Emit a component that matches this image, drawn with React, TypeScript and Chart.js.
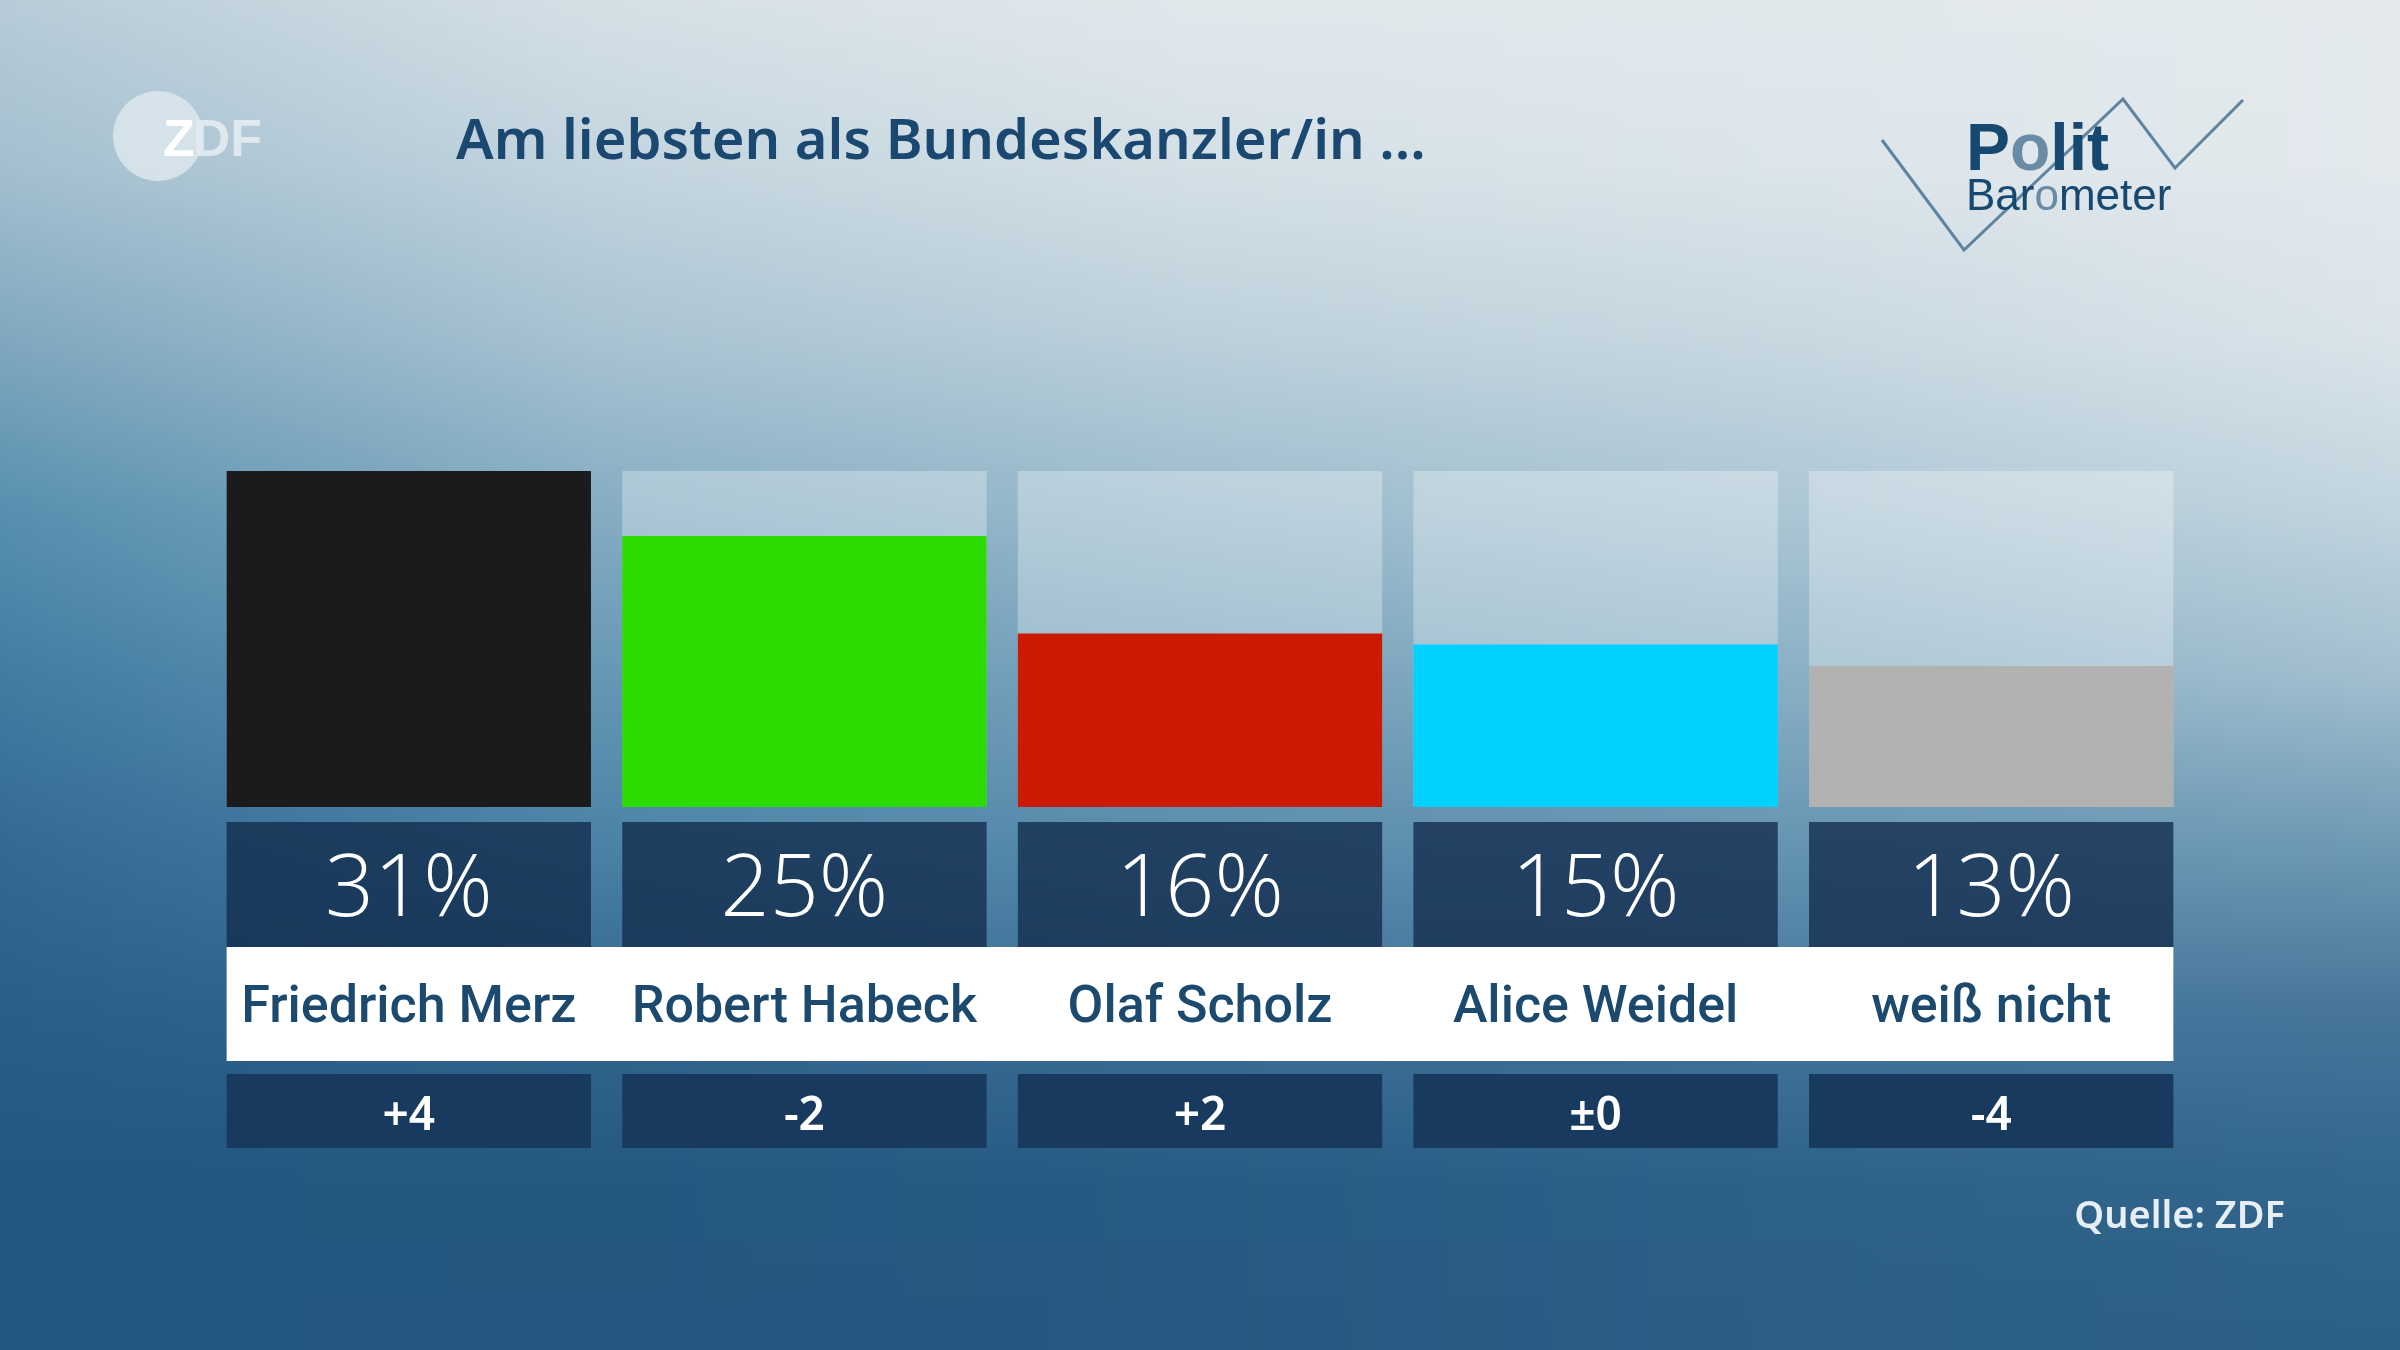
import React, { useEffect, useRef } from "react";
import { Chart, registerables } from "chart.js";

Chart.register(...registerables);

const candidates = ["Friedrich Merz", "Robert Habeck", "Olaf Scholz", "Alice Weidel", "weiß nicht"];
const shares = [31, 25, 16, 15, 13];
const changes = ["+4", "-2", "+2", "±0", "-4"];
const barColors = ["#1b1b1b", "#2cdb00", "#cc1a00", "#00d2ff", "#b2b2b2"];
const scaleMax = 31;
const title = "Am liebsten als Bundeskanzler/in ...";
const source = "Quelle: ZDF";

const W = 2400;
const H = 1350;

// background colour grid: columns left→right (x = 0, 600, 1200, 1800, 2400), rows top→bottom
const bgGrid = [
  ["#b7ccd8", "#a3bfcf", "#80a8bf", "#5890af", "#427ca1", "#346994", "#2a5e88", "#23577f", "#22567f"],
  ["#d5e0e6", "#c2d4de", "#a9c3d2", "#86adc3", "#6598b5", "#4b82a5", "#33668e", "#25587f", "#23557e"],
  ["#e1e8ec", "#d4e0e6", "#bcd0db", "#9cbccd", "#78a3bc", "#5a8cad", "#3d6f97", "#285b83", "#255780"],
  ["#e2e9ed", "#dbe5ea", "#c8d8e1", "#adc7d5", "#8ab0c5", "#6595b3", "#44769c", "#2e6188", "#2b5d85"],
  ["#e4eaee", "#e3e9ed", "#dae4ea", "#c2d5df", "#a3bfcf", "#6e9ab4", "#467599", "#32668c", "#2c5f86"],
];

function hexToRgb(h: string) {
  const n = parseInt(h.slice(1), 16);
  return [(n >> 16) & 255, (n >> 8) & 255, n & 255];
}

function drawBackground(ctx: CanvasRenderingContext2D) {
  const grid = bgGrid.map((col) => col.map(hexToRgb));
  const cols = grid.length;
  const rows = grid[0].length;
  const step = 4;
  ctx.save();
  for (let x = 0; x < W; x += step) {
    const fx = ((x + step / 2) / W) * (cols - 1);
    const i = Math.min(cols - 2, Math.floor(fx));
    const t = fx - i;
    const g = ctx.createLinearGradient(0, 0, 0, H);
    for (let j = 0; j < rows; j++) {
      const a = grid[i][j];
      const c = grid[i + 1][j];
      const r = Math.round(a[0] + (c[0] - a[0]) * t);
      const gg = Math.round(a[1] + (c[1] - a[1]) * t);
      const bb = Math.round(a[2] + (c[2] - a[2]) * t);
      g.addColorStop(j / (rows - 1), `rgb(${r},${gg},${bb})`);
    }
    ctx.fillStyle = g;
    ctx.fillRect(x, 0, step + 0.5, H);
  }
  ctx.restore();
}

const panelPlugin = {
  id: "panels",
  beforeDraw(chart: any) {
    drawBackground(chart.ctx);
  },
  beforeDatasetsDraw(chart: any) {
    const { ctx, chartArea } = chart;
    const meta = chart.getDatasetMeta(0);
    ctx.save();
    ctx.fillStyle = "rgba(255,255,255,0.3)";
    meta.data.forEach((el: any) => {
      const { x, width } = el.getProps(["x", "width"], true);
      ctx.fillRect(x - width / 2, chartArea.top, width, chartArea.bottom - chartArea.top);
    });
    ctx.restore();
  },
  afterDatasetsDraw(chart: any) {
    const { ctx, chartArea } = chart;
    const meta = chart.getDatasetMeta(0);
    const b = chartArea.bottom;
    const els = meta.data.map((el: any) => el.getProps(["x", "width"], true));
    ctx.save();
    ctx.textAlign = "center";
    ctx.textBaseline = "alphabetic";
    // percent boxes
    els.forEach((p: any, i: number) => {
      ctx.fillStyle = "rgba(18,44,77,0.78)";
      ctx.fillRect(p.x - p.width / 2, b + 15, p.width, 125);
      ctx.fillStyle = "#ffffff";
      ctx.font = '350 86px "Open Sans", "Noto Sans"';
      ctx.fillText(shares[i] + "%", p.x, b + 109);
    });
    // white band
    const first = els[0];
    const last = els[els.length - 1];
    const left = first.x - first.width / 2;
    ctx.fillStyle = "#ffffff";
    ctx.fillRect(left, b + 140, last.x + last.width / 2 - left, 114);
    els.forEach((p: any, i: number) => {
      ctx.fillStyle = "#1b4a6e";
      ctx.font = '500 52px Roboto, "Noto Sans"';
      ctx.fillText(candidates[i], p.x, b + 215);
    });
    // change boxes
    els.forEach((p: any, i: number) => {
      ctx.fillStyle = "#173a5e";
      ctx.fillRect(p.x - p.width / 2, b + 267, p.width, 74);
      ctx.fillStyle = "#ffffff";
      ctx.font = '600 46px "Noto Sans"';
      ctx.fillText(changes[i], p.x, b + 323);
    });
    ctx.restore();
  },
  afterDraw(chart: any) {
    const { ctx } = chart;
    ctx.save();
    ctx.textBaseline = "alphabetic";
    // title
    ctx.fillStyle = "#1a4870";
    ctx.font = '600 56px "Noto Sans"';
    ctx.textAlign = "left";
    ctx.fillText(title, 456, 159);
    // ZDF logo
    ctx.fillStyle = "rgba(228,237,242,0.72)";
    ctx.beginPath();
    ctx.ellipse(158, 136, 45, 45, 0, 0, Math.PI * 2);
    ctx.fill();
    ctx.font = '700 52px "Liberation Sans"';
    ctx.fillStyle = "#ffffff";
    ctx.fillText("Z", 163, 156);
    const zw = ctx.measureText("Z").width;
    ctx.fillStyle = "rgba(225,234,240,0.95)";
    ctx.fillText("DF", 163 + zw - 2, 156);
    // Politbarometer logo
    ctx.strokeStyle = "#5f84a0";
    ctx.lineWidth = 3;
    ctx.beginPath();
    ctx.moveTo(1882, 140);
    ctx.lineTo(1964, 250);
    ctx.lineTo(2123, 99);
    ctx.lineTo(2175, 168);
    ctx.lineTo(2243, 100);
    ctx.stroke();
    ctx.font = '700 66px "Liberation Sans"';
    ctx.fillStyle = "#174870";
    ctx.fillText("P", 1966, 170);
    let x = 1966 + ctx.measureText("P").width;
    ctx.fillStyle = "#6a8ba5";
    ctx.fillText("o", x, 170);
    x += ctx.measureText("o").width;
    ctx.fillStyle = "#174870";
    ctx.fillText("lit", x, 170);
    ctx.font = '400 44px "Liberation Sans"';
    ctx.fillText("Bar", 1966, 210);
    x = 1966 + ctx.measureText("Bar").width;
    ctx.fillStyle = "#6a8ba5";
    ctx.fillText("o", x, 210);
    x += ctx.measureText("o").width;
    ctx.fillStyle = "#174870";
    ctx.fillText("meter", x, 210);
    // source
    ctx.fillStyle = "#e8eef5";
    ctx.font = '600 38px "Noto Sans"';
    ctx.textAlign = "right";
    ctx.fillText(source, 2285, 1228);
    ctx.restore();
  },
};

export default function App() {
  const canvasRef = useRef<HTMLCanvasElement | null>(null);

  useEffect(() => {
    if (!canvasRef.current) return;
    const chart = new Chart(canvasRef.current, {
      type: "bar",
      data: {
        labels: candidates,
        datasets: [
          {
            data: shares,
            backgroundColor: barColors,
            borderWidth: 0,
            categoryPercentage: 1,
            barPercentage: 0.921,
          },
        ],
      },
      options: {
        responsive: false,
        animation: false,
        devicePixelRatio: 1,
        layout: { padding: { left: 211, right: 211, top: 471, bottom: 543 } },
        scales: {
          x: { display: false },
          y: { display: false, min: 0, max: scaleMax },
        },
        plugins: {
          legend: { display: false },
          tooltip: { enabled: false },
        },
      },
      plugins: [panelPlugin],
    });
    return () => chart.destroy();
  }, []);

  return (
    <div style={{ position: "absolute", left: 0, top: 0, width: W, height: H, overflow: "hidden", background: "#7ea7be" }}>
      <canvas ref={canvasRef} width={W} height={H} style={{ position: "absolute", left: 0, top: 0, width: W, height: H }} />
    </div>
  );
}
